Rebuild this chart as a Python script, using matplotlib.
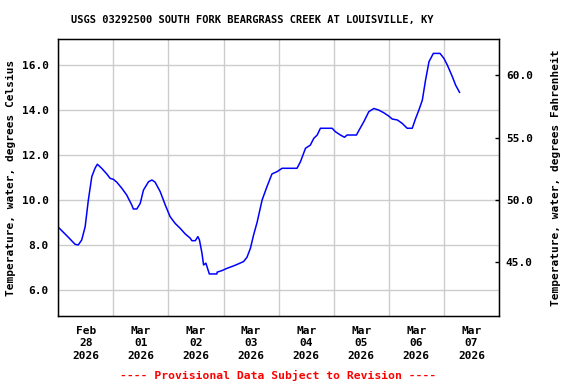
import matplotlib
matplotlib.use("Agg")
import matplotlib.pyplot as plt
import numpy as np
import datetime as dt
import matplotlib.dates as mdates
from matplotlib.ticker import FixedLocator, FuncFormatter

plt.rcParams['font.family'] = ['DejaVu Sans Mono']
plt.rcParams['font.weight'] = 'bold'

title = "USGS 03292500 SOUTH FORK BEARGRASS CREEK AT LOUISVILLE, KY"
ylabel_left = "Temperature, water, degrees Celsius"
ylabel_right = "Temperature, water, degrees Fahrenheit"
footer = "---- Provisional Data Subject to Revision ----"

# hours since 2026-02-28 00:00
hours = [0, 4.4, 7.3, 8.7, 10.2, 11.7, 13.1, 14.6, 16.0, 17.0, 18.9, 21.1, 22.6,
         24.0, 25.5, 27.7, 29.8, 32.0, 32.7, 34.2, 35.7, 37.1, 39.3, 40.8, 42.2,
         44.4, 46.6, 48.7, 50.9, 53.1, 55.3, 57.5, 58.2, 59.7, 60.8, 61.5, 62.6,
         63.3, 64.3, 65.8, 69.1, 69.2, 71.3, 73.5, 76.4, 78.5, 80.7, 82.2, 83.7,
         85.1, 86.6, 88.8, 90.9, 93.1, 95.3, 97.5, 104.0, 105.5, 107.7, 109.8,
         111.3, 112.8, 114.2, 119.3, 120.7, 122.9, 124.7, 125.8, 129.9, 130.9,
         133.1, 135.3, 137.5, 139.6, 141.8, 144.0, 145.5, 147.7, 149.8, 151.3,
         152.0, 154.2, 155.7, 157.1, 158.6, 160.0, 161.5, 163.4, 166.3, 168.0,
         169.5, 171.7, 173.1, 174.8]
temp_c = [8.79, 8.34, 8.03, 8.0, 8.22, 8.81, 10.0, 11.04, 11.41, 11.59, 11.41,
          11.16, 10.96, 10.92, 10.79, 10.52, 10.22, 9.78, 9.6, 9.6, 9.85, 10.44,
          10.81, 10.89, 10.79, 10.37, 9.78, 9.26, 8.96, 8.74, 8.49, 8.3, 8.19,
          8.19, 8.37, 8.22, 7.63, 7.11, 7.19, 6.71, 6.71, 6.79, 6.86, 6.96, 7.07,
          7.16, 7.26, 7.45, 7.85, 8.45, 9.0, 10.0, 10.59, 11.16, 11.26, 11.41,
          11.41, 11.7, 12.3, 12.44, 12.74, 12.89, 13.19, 13.19, 13.04, 12.89,
          12.79, 12.89, 12.89, 13.08, 13.48, 13.93, 14.07, 14.0, 13.88, 13.73,
          13.6, 13.56, 13.41, 13.26, 13.19, 13.19, 13.63, 14.0, 14.44, 15.33,
          16.15, 16.52, 16.52, 16.3, 16.0, 15.48, 15.11, 14.79]

day_labels = ["Feb\n28\n2026", "Mar\n01\n2026", "Mar\n02\n2026", "Mar\n03\n2026",
              "Mar\n04\n2026", "Mar\n05\n2026", "Mar\n06\n2026", "Mar\n07\n2026"]
c_ticks = [6.0, 8.0, 10.0, 12.0, 14.0, 16.0]
f_ticks = [45.0, 50.0, 55.0, 60.0]

start = dt.datetime(2026, 2, 28)
times = [start + dt.timedelta(hours=h) for h in hours]

fig = plt.figure(figsize=(5.76, 3.84), dpi=100)
ax = fig.add_axes([0.1012, 0.1771, 0.7651, 0.7213])
ax.plot(times, temp_c, color='#0000ff', lw=1.1, zorder=3)

ax.set_xlim(start, start + dt.timedelta(days=8))
ymin, ymax = 4.84, 17.16
ax.set_ylim(ymin, ymax)

midnights = [start + dt.timedelta(days=i) for i in range(9)]
noons = [start + dt.timedelta(days=i, hours=12) for i in range(8)]
ax.xaxis.set_major_locator(FixedLocator(mdates.date2num(midnights)))
ax.xaxis.set_major_formatter(FuncFormatter(lambda v, p: ""))
ax.xaxis.set_minor_locator(FixedLocator(mdates.date2num(noons)))
ax.xaxis.set_minor_formatter(FuncFormatter(lambda v, p: day_labels[p] if p is not None and p < len(day_labels) else ""))
ax.tick_params(axis='x', which='major', length=0)
ax.tick_params(axis='x', which='minor', length=0, pad=7, labelsize=8)
for lab in ax.xaxis.get_minorticklabels():
    lab.set_fontweight('bold')
    lab.set_linespacing(1.3)

ax.set_yticks(c_ticks)
ax.set_yticklabels([f"{v:.1f}" for v in c_ticks], fontsize=8, fontweight='bold')
ax.tick_params(axis='y', length=0, pad=7)

ax.grid(True, which='major', color='#cccccc', lw=1.0, zorder=0)
for s in ax.spines.values():
    s.set_linewidth(1.0)
    s.set_color('black')

ax.set_ylabel(ylabel_left, fontsize=8, fontweight='bold', labelpad=4)

ax2 = ax.twinx()
ax2.set_ylim(ymin * 9 / 5 + 32, ymax * 9 / 5 + 32)
ax2.set_yticks(f_ticks)
ax2.set_yticklabels([f"{v:.1f}" for v in f_ticks], fontsize=8, fontweight='bold')
ax2.tick_params(axis='y', direction='in', length=3, pad=5, width=1)
ax2.set_ylabel(ylabel_right, fontsize=8, fontweight='bold', labelpad=13)

fig.text(0.4375, 0.948, title, ha='center', va='center', fontsize=7.5, fontweight='bold')
fig.text(0.482, 0.022, footer, ha='center', va='center', fontsize=8.2,
         fontweight='bold', color='#ff0000')

fig.savefig("out.png", dpi=100)
